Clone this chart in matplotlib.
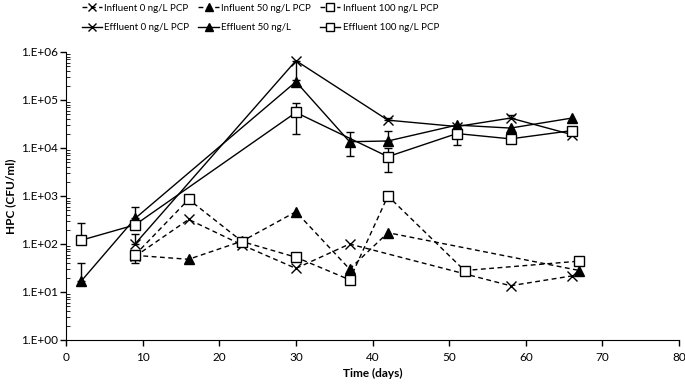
import numpy as np
import matplotlib
matplotlib.use("Agg")
import matplotlib.pyplot as plt
from matplotlib.ticker import LogLocator, FixedLocator, NullFormatter

plt.rcParams['font.family'] = ['Lato', 'DejaVu Sans']

# effluent series (solid lines)
eff0_days = [9, 30, 42, 51, 58, 66]
eff0_vals = [100, 6.6e5, 3.8e4, 2.8e4, 4.2e4, 1.9e4]
eff0_lo = [0, 4.0e5, 0, 0, 0, 0]
eff0_hi = [60, 0, 5e3, 0, 7e3, 0]

eff50_days = [2, 9, 30, 37, 42, 51, 58, 66]
eff50_vals = [17, 340, 2.4e5, 1.35e4, 1.4e4, 3.0e4, 2.6e4, 4.2e4]
eff50_lo = [0, 0, 0, 6.7e3, 0, 0, 0, 0]
eff50_hi = [23, 260, 0, 8.5e3, 9e3, 0, 0, 0]

eff100_days = [2, 9, 30, 42, 51, 58, 66]
eff100_vals = [120, 250, 5.5e4, 6.6e3, 2.0e4, 1.55e4, 2.3e4]
eff100_lo = [0, 0, 3.5e4, 3.4e3, 8.5e3, 0, 4e3]
eff100_hi = [160, 0, 3.3e4, 3.4e3, 0, 0, 0]

# influent series (dashed lines)
inf0_days = [9, 16, 23, 30, 37, 58, 66]
inf0_vals = [55, 325, 95, 31, 100, 13.5, 21.6]
inf0_lo = [15, 0, 0, 0, 0, 0, 0]
inf0_hi = [0, 0, 0, 0, 0, 0, 0]

inf50_days = [9, 16, 23, 30, 37, 42, 67]
inf50_vals = [58, 48, 115, 470, 30, 172, 28]

inf100_days = [9, 16, 23, 30, 37, 42, 52, 67]
inf100_vals = [59, 850, 112, 53, 18, 1000, 28, 44]

fig = plt.figure(figsize=(6.85, 3.84), dpi=100)
ax = fig.add_axes([0.0964, 0.1146, 0.895, 0.75])

dash = (0, (3.5, 2.5))
ms = 7


def errs(days, vals, lo, hi):
    d = np.array(days, float)
    v = np.array(vals, float)
    lo = np.array(lo, float)
    hi = np.array(hi, float)
    m = (lo + hi) > 0
    if m.any():
        ax.errorbar(d[m], v[m], yerr=[lo[m], hi[m]], fmt="none", ecolor="black",
                    elinewidth=1, capsize=3, capthick=1, zorder=2)


h_inf0, = ax.plot(inf0_days, inf0_vals, color="black", lw=1, ls=dash, marker="x",
                  ms=ms, mew=1, label="Influent 0 ng/L PCP", zorder=3)
h_inf50, = ax.plot(inf50_days, inf50_vals, color="black", lw=1, ls=dash, marker="^",
                   ms=ms, mfc="black", label="Influent 50 ng/L PCP", zorder=3)
h_inf100, = ax.plot(inf100_days, inf100_vals, color="black", lw=1, ls=dash, marker="s",
                    ms=ms, mfc="white", mew=1, label="Influent 100 ng/L PCP", zorder=3)
errs(inf0_days, inf0_vals, inf0_lo, inf0_hi)

h_eff0, = ax.plot(eff0_days, eff0_vals, color="black", lw=1, marker="x",
                  ms=ms, mew=1, label="Effluent 0 ng/L PCP", zorder=3)
h_eff50, = ax.plot(eff50_days, eff50_vals, color="black", lw=1, marker="^",
                   ms=ms, mfc="black", label="Effluent 50 ng/L", zorder=3)
h_eff100, = ax.plot(eff100_days, eff100_vals, color="black", lw=1, marker="s",
                    ms=ms, mfc="white", mew=1, label="Effluent 100 ng/L PCP", zorder=3)
errs(eff0_days, eff0_vals, eff0_lo, eff0_hi)
errs(eff50_days, eff50_vals, eff50_lo, eff50_hi)
errs(eff100_days, eff100_vals, eff100_lo, eff100_hi)

ax.set_yscale("log")
ax.set_ylim(1, 1e6)
ax.set_xlim(0, 80)
ax.xaxis.set_major_locator(FixedLocator(np.arange(0, 81, 10)))
ax.yaxis.set_minor_locator(LogLocator(base=10, subs=np.arange(2, 10), numticks=20))
ax.yaxis.set_minor_formatter(NullFormatter())
ax.set_yticks([10.0 ** k for k in range(7)])
ax.set_yticklabels(["1.E+%02d" % k for k in range(7)])

for s in ["top", "right"]:
    ax.spines[s].set_visible(False)
ax.tick_params(axis="both", which="major", labelsize=8.5, length=4, width=1,
               direction="out", colors="black", pad=2)
ax.tick_params(axis="x", which="major", pad=5)
ax.tick_params(axis="y", which="minor", length=3, direction="in")

ax.set_xlabel("Time (days)", fontsize=8.5, fontweight="bold", labelpad=3)
ax.set_ylabel("HPC (CFU/ml)", fontsize=8.5, fontweight="bold", labelpad=3)

handles = [h_inf0, h_eff0, h_inf50, h_eff50, h_inf100, h_eff100]
fig.legend(handles=handles, labels=[h.get_label() for h in handles], ncol=3,
           loc="center", bbox_to_anchor=(0.38, 0.953), frameon=False,
           fontsize=7, handlelength=2.1, handletextpad=0.25, columnspacing=0.9,
           labelspacing=1.1, markerscale=0.75)

fig.savefig("out.png", dpi=100)
